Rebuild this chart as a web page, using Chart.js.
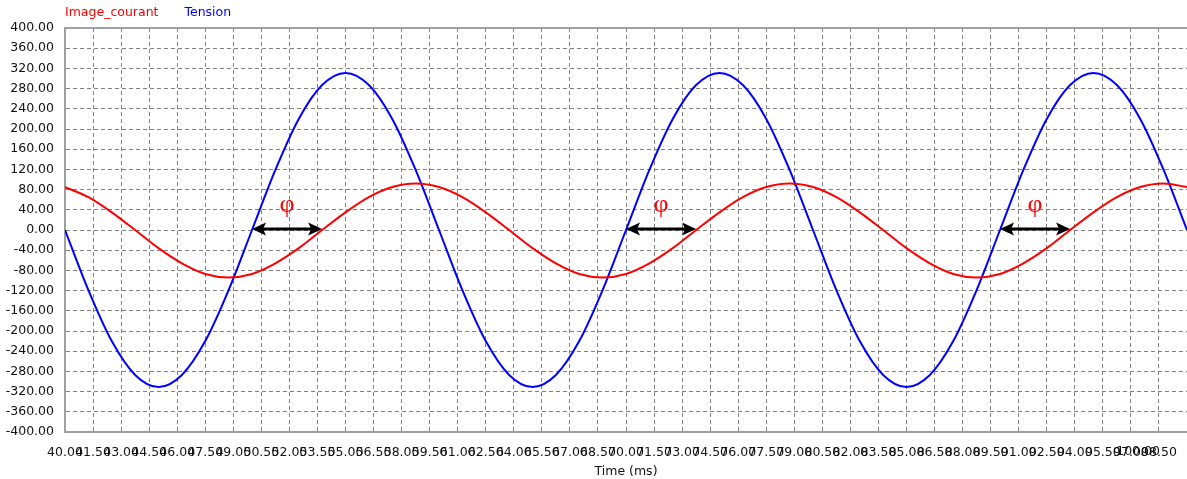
<!DOCTYPE html>
<html>
<head>
<meta charset="utf-8">
<script src="https://cdn.jsdelivr.net/npm/chart.js@4/dist/chart.umd.min.js"></script>
<style>
html,body{margin:0;padding:0;background:#fff;overflow:hidden}
#wrap{width:1187px;height:479px;position:relative}
</style>
</head>
<body>
<div id="wrap"><canvas id="c"></canvas></div>
<script>
// ---- data ----
const timeMs = [40, 41.25, 42.5, 43.75, 45, 46.25, 47.5, 48.75, 50, 51.25, 52.5, 53.75,
  55, 56.25, 57.5, 58.75, 60, 61.25, 62.5, 63.75, 65, 66.25, 67.5, 68.75,
  70, 71.25, 72.5, 73.75, 75, 76.25, 77.5, 78.75, 80, 81.25, 82.5, 83.75,
  85, 86.25, 87.5, 88.75, 90, 91.25, 92.5, 93.75, 95, 96.25, 97.5, 98.75, 100];

const imageCourant = [85, 65, 35, 0, -36, -66, -87, -94, -87, -66, -36, 0,
  35, 65, 85, 92, 85, 65, 35, 0, -36, -66, -87, -94,
  -87, -66, -36, 0, 35, 65, 85, 92, 85, 65, 35, 0,
  -36, -66, -87, -94, -87, -66, -36, 0, 35, 65, 85, 92, 85];

const tension = [0, -119, -220, -287, -311, -287, -220, -119, 0, 119, 220, 287,
  311, 287, 220, 119, 0, -119, -220, -287, -311, -287, -220, -119,
  0, 119, 220, 287, 311, 287, 220, 119, 0, -119, -220, -287,
  -311, -287, -220, -119, 0, 119, 220, 287, 311, 287, 220, 119, 0];

const seriesNames = ['Image_courant', 'Tension'];
const seriesColors = ['#ff0000', '#0000ff'];

const xRange = [40, 100];
const xStep = 1.5;
const yRange = [-400, 400];
const yStep = 40;
const xTitle = 'Time (ms)';

// phase-shift annotations (ms): voltage zero crossing -> current zero crossing
const phiStart = [50, 70, 90];
const phiEnd = [53.75, 73.75, 93.75];
const phiLevel = 2;        // arrow value level
const phiLabelLevel = 50;  // φ label value level
const phiSymbol = 'φ';

// ---- chart ----
const FONT = '"DejaVu Sans", Verdana, sans-serif';
const FS = 12.5;
Chart.defaults.font.family = FONT;
Chart.defaults.font.size = FS;

const overlay = {
  id: 'overlay',
  beforeDatasetsDraw(chart) {
    const {ctx, chartArea: a} = chart;
    ctx.save();
    ctx.strokeStyle = '#a0a0a0';
    ctx.lineWidth = 2;
    ctx.beginPath();
    ctx.moveTo(a.left - 1, a.top);
    ctx.lineTo(a.right + 2, a.top);
    ctx.stroke();
    ctx.restore();
  },
  afterDraw(chart) {
    const {ctx, chartArea: a} = chart;
    const xs = chart.scales.x, ys = chart.scales.y;
    ctx.save();
    // legend
    ctx.font = FS + 'px ' + FONT;
    ctx.textBaseline = 'middle';
    ctx.textAlign = 'left';
    let lx = a.left;
    seriesNames.forEach((name, i) => {
      ctx.fillStyle = seriesColors[i];
      ctx.fillText(name, lx, 13);
      lx += ctx.measureText(name).width + 26;
    });
    // last x label, pulled inside the canvas
    ctx.fillStyle = '#111';
    ctx.textAlign = 'right';
    ctx.textBaseline = 'middle';
    ctx.fillText(xRange[1].toFixed(2), xs.getPixelForValue(xRange[1] - xStep) + 1, xs.top + 20);
    // phase arrows
    phiStart.forEach((t0, i) => {
      const x1 = xs.getPixelForValue(t0);
      const x2 = xs.getPixelForValue(phiEnd[i]);
      const y = ys.getPixelForValue(phiLevel);
      ctx.strokeStyle = '#000';
      ctx.fillStyle = '#000';
      ctx.lineWidth = 3;
      ctx.beginPath();
      ctx.moveTo(x1 + 8, y);
      ctx.lineTo(x2 - 8, y);
      ctx.stroke();
      ctx.beginPath();
      ctx.moveTo(x1, y); ctx.lineTo(x1 + 14, y - 6.5); ctx.lineTo(x1 + 11, y); ctx.lineTo(x1 + 14, y + 6.5); ctx.closePath(); ctx.fill();
      ctx.beginPath();
      ctx.moveTo(x2, y); ctx.lineTo(x2 - 14, y - 6.5); ctx.lineTo(x2 - 11, y); ctx.lineTo(x2 - 14, y + 6.5); ctx.closePath(); ctx.fill();
      ctx.fillStyle = '#ff0000';
      ctx.font = '26px "Liberation Serif", "DejaVu Serif", serif';
      ctx.textAlign = 'center';
      ctx.textBaseline = 'middle';
      ctx.fillText(phiSymbol, (x1 + x2) / 2, ys.getPixelForValue(phiLabelLevel));
    });
    ctx.restore();
  }
};

new Chart(document.getElementById('c'), {
  type: 'line',
  data: {
    datasets: [
      {
        label: seriesNames[0],
        data: timeMs.map((t, i) => ({x: t, y: imageCourant[i]})),
        borderColor: seriesColors[0],
        backgroundColor: seriesColors[0],
        borderWidth: 2,
        pointRadius: 0,
        cubicInterpolationMode: 'monotone',
        fill: false
      },
      {
        label: seriesNames[1],
        data: timeMs.map((t, i) => ({x: t, y: tension[i]})),
        borderColor: seriesColors[1],
        backgroundColor: seriesColors[1],
        borderWidth: 2,
        pointRadius: 0,
        cubicInterpolationMode: 'monotone',
        fill: false
      }
    ]
  },
  options: {
    responsive: true,
    maintainAspectRatio: false,
    animation: false,
    events: [],
    layout: {padding: {top: 28, right: -2, left: 0, bottom: 0}},
    plugins: {legend: {display: false}, tooltip: {enabled: false}},
    scales: {
      x: {
        type: 'linear',
        min: xRange[0],
        max: xRange[1],
        ticks: {
          stepSize: xStep,
          autoSkip: false,
          maxRotation: 0,
          minRotation: 0,
          padding: 13,
          color: '#111',
          font: {size: FS},
          callback: v => (v >= xRange[1] ? '' : v.toFixed(2))
        },
        grid: {color: '#808080', lineWidth: 1, drawTicks: false},
        border: {display: true, color: '#a0a0a0', width: 2, dash: [4, 3]},
        title: {display: true, text: xTitle, color: '#111', font: {size: FS}, padding: {top: 0, bottom: 0}},
        afterFit(scale) { scale.height = 47; scale.paddingRight = 0; scale.paddingLeft = 0; }
      },
      y: {
        type: 'linear',
        min: yRange[0],
        max: yRange[1],
        ticks: {
          stepSize: yStep,
          padding: 11,
          color: '#111',
          font: {size: FS},
          callback: v => v.toFixed(2)
        },
        grid: {color: '#808080', lineWidth: 1, drawTicks: false},
        border: {display: true, color: '#a0a0a0', width: 2, dash: [4, 3]},
        afterFit(scale) { scale.width = 65; }
      }
    }
  },
  plugins: [overlay]
});
</script>
</body>
</html>
